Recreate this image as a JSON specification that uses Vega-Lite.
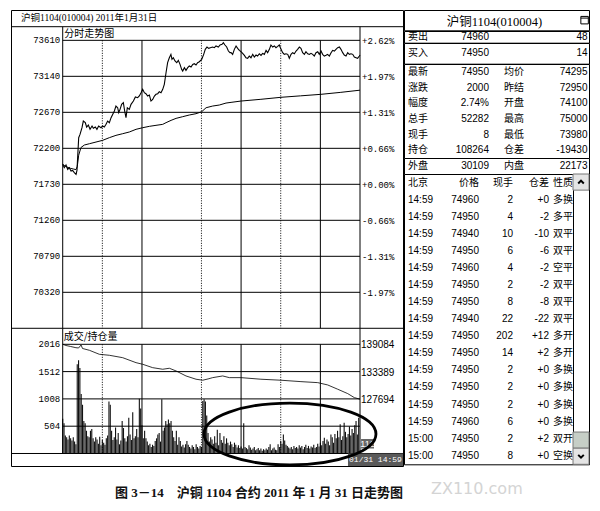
{
"$schema":"https://vega.github.io/schema/vega-lite/v6.json",
"padding":{"left":10,"top":9,"right":2,"bottom":2},
"background":"white",
"config":{"view":{"stroke":"#000","strokeWidth":1,"fill":"white"},"text":{"font":"Liberation Sans, Noto Sans CJK SC","fontSize":10,"color":"#000"}},
"datasets":{
"pticks":[{"p":73610,"lab":"73610","pct":"+2.62%"},{"p":73140,"lab":"73140","pct":"+1.97%"},{"p":72670,"lab":"72670","pct":"+1.31%"},{"p":72200,"lab":"72200","pct":"+0.66%"},{"p":71730,"lab":"71730","pct":"+0.00%"},{"p":71260,"lab":"71260","pct":"-0.66%"},{"p":70790,"lab":"70790","pct":"-1.31%"},{"p":70320,"lab":"70320","pct":"-1.97%"}],
"vticks":[{"v":2016,"lab":"2016","oi":"139084"},{"v":1512,"lab":"1512","oi":"133389"},{"v":1008,"lab":"1008","oi":"127694"},{"v":504,"lab":"504","oi":""}],
"price":[{"m":0,"p":71991},{"m":1.2,"p":71947},{"m":2.5,"p":71982},{"m":3.8,"p":71925},{"m":5,"p":71947},{"m":6.3,"p":71904},{"m":7.5,"p":71912},{"m":8.8,"p":71882},{"m":10.1,"p":71860},{"m":10.8,"p":71912},{"m":12.1,"p":72339},{"m":13.1,"p":72382},{"m":14.6,"p":72469},{"m":15.6,"p":72556},{"m":17.1,"p":72535},{"m":18.1,"p":72478},{"m":19.4,"p":72504},{"m":20.7,"p":72448},{"m":22.2,"p":72491},{"m":23.2,"p":72461},{"m":24.7,"p":72478},{"m":25.9,"p":72448},{"m":27.2,"p":72491},{"m":29,"p":72469},{"m":30.2,"p":72491},{"m":31.5,"p":72478},{"m":32.8,"p":72513},{"m":34,"p":72556},{"m":35.3,"p":72535},{"m":36.6,"p":72600},{"m":37.8,"p":72643},{"m":39.1,"p":72687},{"m":40.3,"p":72752},{"m":41.6,"p":72730},{"m":42.4,"p":72665},{"m":43.4,"p":72709},{"m":44.6,"p":72774},{"m":45.9,"p":72796},{"m":46.9,"p":72687},{"m":47.9,"p":72600},{"m":48.9,"p":72730},{"m":50.4,"p":72709},{"m":51.7,"p":72774},{"m":53.5,"p":72817},{"m":55,"p":72870},{"m":56.7,"p":72861},{"m":58,"p":72883},{"m":59.3,"p":72926},{"m":60.5,"p":72970},{"m":61.8,"p":72926},{"m":63,"p":72913},{"m":64.3,"p":72883},{"m":65.6,"p":72896},{"m":66.8,"p":72817},{"m":68.1,"p":72839},{"m":69.4,"p":72883},{"m":70.6,"p":72905},{"m":71.9,"p":72913},{"m":73.1,"p":72939},{"m":74.4,"p":72926},{"m":75.7,"p":72970},{"m":76.9,"p":73035},{"m":78.2,"p":73187},{"m":79.4,"p":73318},{"m":80.7,"p":73383},{"m":81.9,"p":73427},{"m":82.7,"p":73362},{"m":83.7,"p":73383},{"m":85,"p":73340},{"m":86.3,"p":73318},{"m":87.5,"p":73348},{"m":88.8,"p":73296},{"m":90,"p":73231},{"m":90.8,"p":73209},{"m":92.1,"p":73253},{"m":93.3,"p":73218},{"m":94.6,"p":73253},{"m":95.8,"p":73274},{"m":97.1,"p":73261},{"m":98.4,"p":73296},{"m":99.6,"p":73305},{"m":100.9,"p":73288},{"m":102.1,"p":73318},{"m":103.4,"p":73331},{"m":105.2,"p":73362},{"m":106.7,"p":73427},{"m":107.9,"p":73492},{"m":109.2,"p":73523},{"m":110.5,"p":73505},{"m":111.7,"p":73514},{"m":113.5,"p":73523},{"m":114.8,"p":73514},{"m":116,"p":73536},{"m":117.8,"p":73523},{"m":119.1,"p":73549},{"m":120.6,"p":73557},{"m":121.6,"p":73579},{"m":122.8,"p":73549},{"m":124.1,"p":73523},{"m":125.4,"p":73470},{"m":126.6,"p":73449},{"m":127.4,"p":73449},{"m":128.6,"p":73427},{"m":129.9,"p":73492},{"m":131.2,"p":73536},{"m":132.4,"p":73505},{"m":133.7,"p":73479},{"m":134.9,"p":73462},{"m":136.2,"p":73440},{"m":137.5,"p":73414},{"m":138.7,"p":73383},{"m":140,"p":73375},{"m":141.2,"p":73405},{"m":142.5,"p":73383},{"m":143.8,"p":73427},{"m":145,"p":73392},{"m":146.3,"p":73418},{"m":147.5,"p":73405},{"m":148.8,"p":73435},{"m":150.1,"p":73414},{"m":151.3,"p":73440},{"m":152.6,"p":73427},{"m":153.9,"p":73479},{"m":155.1,"p":73449},{"m":156.4,"p":73492},{"m":157.6,"p":73549},{"m":158.9,"p":73523},{"m":160.2,"p":73536},{"m":161.4,"p":73514},{"m":162.7,"p":73531},{"m":163.9,"p":73549},{"m":165.2,"p":73492},{"m":166.5,"p":73449},{"m":167.7,"p":73427},{"m":169,"p":73435},{"m":170.3,"p":73427},{"m":171.5,"p":73375},{"m":172.8,"p":73427},{"m":174,"p":73449},{"m":175.3,"p":73435},{"m":176.6,"p":73470},{"m":177.8,"p":73492},{"m":179.1,"p":73523},{"m":180.3,"p":73505},{"m":181.6,"p":73449},{"m":182.9,"p":73427},{"m":184.1,"p":73462},{"m":185.4,"p":73435},{"m":186.7,"p":73427},{"m":187.9,"p":73440},{"m":189.2,"p":73427},{"m":190.4,"p":73405},{"m":191.7,"p":73449},{"m":193,"p":73462},{"m":194.2,"p":73427},{"m":195.5,"p":73470},{"m":196.7,"p":73427},{"m":198,"p":73405},{"m":199.3,"p":73414},{"m":200.5,"p":73427},{"m":201.8,"p":73405},{"m":203.1,"p":73449},{"m":204.3,"p":73479},{"m":205.6,"p":73470},{"m":206.8,"p":73492},{"m":208.1,"p":73514},{"m":209.4,"p":73523},{"m":210.6,"p":73492},{"m":211.9,"p":73449},{"m":213.1,"p":73418},{"m":214.4,"p":73405},{"m":215.7,"p":73449},{"m":216.9,"p":73427},{"m":218.2,"p":73435},{"m":219.5,"p":73427},{"m":220.7,"p":73392},{"m":222,"p":73383},{"m":223.2,"p":73375},{"m":224.5,"p":73405},{"m":225,"p":73418}],
"avg":[{"m":0,"p":71991},{"m":2,"p":71965},{"m":4,"p":71950},{"m":6,"p":71938},{"m":8,"p":71930},{"m":10,"p":71922},{"m":11,"p":71960},{"m":12.1,"p":72110},{"m":13.8,"p":72210},{"m":16.4,"p":72243},{"m":20.2,"p":72260},{"m":25.2,"p":72282},{"m":30.2,"p":72304},{"m":35.3,"p":72339},{"m":40.3,"p":72369},{"m":45.4,"p":72391},{"m":50.4,"p":72413},{"m":55.5,"p":72448},{"m":60.5,"p":72469},{"m":65.6,"p":72487},{"m":70.6,"p":72500},{"m":75.7,"p":72513},{"m":78.2,"p":72535},{"m":82,"p":72565},{"m":85.8,"p":72591},{"m":90.8,"p":72613},{"m":95.8,"p":72635},{"m":100.9,"p":72652},{"m":105.2,"p":72678},{"m":108.5,"p":72730},{"m":113.5,"p":72752},{"m":118.5,"p":72765},{"m":123.6,"p":72791},{"m":127.4,"p":72800},{"m":134.9,"p":72817},{"m":150,"p":72840},{"m":165.2,"p":72866},{"m":180,"p":72885},{"m":195.5,"p":72905},{"m":210,"p":72930},{"m":225,"p":72959}],
"oi":[{"m":0,"o":139084},{"m":2.5,"o":138834},{"m":6,"o":138626},{"m":10,"o":138376},{"m":12,"o":138314},{"m":13.9,"o":138938},{"m":15,"o":138210},{"m":20.2,"o":137835},{"m":27.7,"o":137002},{"m":35.3,"o":136794},{"m":45.4,"o":136294},{"m":55.5,"o":135253},{"m":60.5,"o":134920},{"m":68.1,"o":134212},{"m":75.7,"o":133879},{"m":80.7,"o":134087},{"m":85.8,"o":133525},{"m":93.3,"o":132484},{"m":100.9,"o":131797},{"m":106,"o":131589},{"m":110,"o":131860},{"m":113.5,"o":132130},{"m":121.1,"o":132484},{"m":126.1,"o":132130},{"m":134.9,"o":132130},{"m":150,"o":131797},{"m":165.2,"o":131589},{"m":180.3,"o":131297},{"m":193,"o":131089},{"m":200.5,"o":130610},{"m":208.1,"o":129715},{"m":215.7,"o":128799},{"m":220.7,"o":127966},{"m":225,"o":127633}],
"vol":[{"m":0,"v":640},{"m":1,"v":560},{"m":2,"v":330},{"m":3,"v":300},{"m":4,"v":260},{"m":5,"v":330},{"m":6,"v":280},{"m":7,"v":240},{"m":8,"v":300},{"m":9,"v":220},{"m":10,"v":170},{"m":11,"v":1650},{"m":12,"v":1720},{"m":13,"v":1580},{"m":14,"v":1100},{"m":15,"v":900},{"m":16,"v":600},{"m":17,"v":560},{"m":18,"v":420},{"m":19,"v":320},{"m":20,"v":300},{"m":21,"v":420},{"m":22,"v":450},{"m":23,"v":280},{"m":24,"v":220},{"m":25,"v":300},{"m":26,"v":260},{"m":27,"v":180},{"m":28,"v":310},{"m":29,"v":150},{"m":30,"v":250},{"m":31,"v":200},{"m":32,"v":160},{"m":33,"v":280},{"m":34,"v":330},{"m":35,"v":960},{"m":36,"v":900},{"m":37,"v":420},{"m":38,"v":250},{"m":39,"v":300},{"m":40,"v":480},{"m":41,"v":260},{"m":42,"v":380},{"m":43,"v":170},{"m":44,"v":240},{"m":45,"v":600},{"m":46,"v":470},{"m":47,"v":280},{"m":48,"v":220},{"m":49,"v":320},{"m":50,"v":660},{"m":51,"v":350},{"m":52,"v":250},{"m":53,"v":760},{"m":54,"v":280},{"m":55,"v":320},{"m":56,"v":450},{"m":57,"v":300},{"m":58,"v":1010},{"m":59,"v":830},{"m":60,"v":520},{"m":61,"v":280},{"m":62,"v":420},{"m":63,"v":280},{"m":64,"v":220},{"m":65,"v":150},{"m":66,"v":180},{"m":67,"v":120},{"m":68,"v":160},{"m":69,"v":140},{"m":70,"v":230},{"m":71,"v":280},{"m":72,"v":350},{"m":73,"v":380},{"m":74,"v":220},{"m":75,"v":1000},{"m":76,"v":420},{"m":77,"v":480},{"m":78,"v":600},{"m":79,"v":540},{"m":80,"v":630},{"m":81,"v":560},{"m":82,"v":600},{"m":83,"v":420},{"m":84,"v":300},{"m":85,"v":230},{"m":86,"v":420},{"m":87,"v":160},{"m":88,"v":300},{"m":89,"v":230},{"m":90,"v":130},{"m":91,"v":160},{"m":92,"v":110},{"m":93,"v":170},{"m":94,"v":230},{"m":95,"v":160},{"m":96,"v":120},{"m":97,"v":90},{"m":98,"v":150},{"m":99,"v":120},{"m":100,"v":80},{"m":101,"v":170},{"m":102,"v":120},{"m":103,"v":90},{"m":104,"v":140},{"m":105,"v":120},{"m":106,"v":970},{"m":107,"v":1000},{"m":108,"v":960},{"m":109,"v":700},{"m":110,"v":380},{"m":111,"v":220},{"m":112,"v":300},{"m":113,"v":260},{"m":114,"v":180},{"m":115,"v":320},{"m":116,"v":200},{"m":117,"v":440},{"m":118,"v":150},{"m":119,"v":380},{"m":120,"v":250},{"m":121,"v":200},{"m":122,"v":320},{"m":123,"v":180},{"m":124,"v":280},{"m":125,"v":200},{"m":126,"v":150},{"m":127,"v":220},{"m":128,"v":170},{"m":129,"v":120},{"m":130,"v":200},{"m":131,"v":160},{"m":132,"v":110},{"m":133,"v":150},{"m":134,"v":100},{"m":135,"v":130},{"m":136,"v":90},{"m":137,"v":560},{"m":138,"v":120},{"m":139,"v":100},{"m":140,"v":80},{"m":141,"v":150},{"m":142,"v":110},{"m":143,"v":70},{"m":144,"v":90},{"m":145,"v":120},{"m":146,"v":60},{"m":147,"v":80},{"m":148,"v":100},{"m":149,"v":60},{"m":150,"v":90},{"m":151,"v":50},{"m":152,"v":80},{"m":153,"v":60},{"m":154,"v":90},{"m":155,"v":70},{"m":156,"v":120},{"m":157,"v":170},{"m":158,"v":60},{"m":159,"v":90},{"m":160,"v":110},{"m":161,"v":70},{"m":162,"v":60},{"m":163,"v":170},{"m":164,"v":120},{"m":165,"v":230},{"m":166,"v":180},{"m":167,"v":350},{"m":168,"v":240},{"m":169,"v":160},{"m":170,"v":140},{"m":171,"v":110},{"m":172,"v":90},{"m":173,"v":120},{"m":174,"v":80},{"m":175,"v":140},{"m":176,"v":100},{"m":177,"v":120},{"m":178,"v":90},{"m":179,"v":150},{"m":180,"v":110},{"m":181,"v":140},{"m":182,"v":80},{"m":183,"v":120},{"m":184,"v":160},{"m":185,"v":100},{"m":186,"v":140},{"m":187,"v":90},{"m":188,"v":130},{"m":189,"v":110},{"m":190,"v":160},{"m":191,"v":100},{"m":192,"v":120},{"m":193,"v":180},{"m":194,"v":130},{"m":195,"v":200},{"m":196,"v":150},{"m":197,"v":230},{"m":198,"v":290},{"m":199,"v":180},{"m":200,"v":260},{"m":201,"v":220},{"m":202,"v":150},{"m":203,"v":350},{"m":204,"v":300},{"m":205,"v":200},{"m":206,"v":360},{"m":207,"v":280},{"m":208,"v":420},{"m":209,"v":300},{"m":210,"v":540},{"m":211,"v":250},{"m":212,"v":320},{"m":213,"v":570},{"m":214,"v":400},{"m":215,"v":300},{"m":216,"v":360},{"m":217,"v":500},{"m":218,"v":330},{"m":219,"v":450},{"m":220,"v":380},{"m":221,"v":520},{"m":222,"v":600},{"m":223,"v":350},{"m":224,"v":660}],
"trades":[{"i":0,"t":"北京","p":"价格","q":"现手","d":"仓差","n":"性质"},{"i":1,"t":"14:59","p":"74960","q":"2","d":"+0","n":"多换"},{"i":2,"t":"14:59","p":"74950","q":"4","d":"-2","n":"多平"},{"i":3,"t":"14:59","p":"74940","q":"10","d":"-10","n":"双平"},{"i":4,"t":"14:59","p":"74950","q":"6","d":"-6","n":"双平"},{"i":5,"t":"14:59","p":"74960","q":"4","d":"-2","n":"空平"},{"i":6,"t":"14:59","p":"74950","q":"2","d":"-2","n":"双平"},{"i":7,"t":"14:59","p":"74950","q":"8","d":"-8","n":"双平"},{"i":8,"t":"14:59","p":"74940","q":"22","d":"-22","n":"双平"},{"i":9,"t":"14:59","p":"74950","q":"202","d":"+12","n":"多开"},{"i":10,"t":"14:59","p":"74950","q":"14","d":"+2","n":"多开"},{"i":11,"t":"14:59","p":"74950","q":"2","d":"+0","n":"多换"},{"i":12,"t":"14:59","p":"74950","q":"2","d":"+0","n":"多换"},{"i":13,"t":"14:59","p":"74950","q":"2","d":"+0","n":"多换"},{"i":14,"t":"14:59","p":"74960","q":"6","d":"+0","n":"多换"},{"i":15,"t":"15:00","p":"74950","q":"2","d":"+2","n":"双开"},{"i":16,"t":"15:00","p":"74950","q":"8","d":"+0","n":"空换"}]
},
"hconcat":[
{
"width":392,"height":456,
"title":{"text":"图 3－14　沪铜 1104 合约 2011 年 1 月 31 日走势图","orient":"bottom","anchor":"middle","frame":"group","offset":16,"dx":52,"font":"Liberation Serif, Noto Sans CJK SC","fontSize":13,"fontWeight":"bold","color":"#111"},
"resolve":{"scale":{"y":"independent"}},
"layer":[
{"layer":[
{"data":{"name":"pticks"},"mark":{"type":"rule","color":"#000","strokeWidth":1},"encoding":{"x":{"datum":0,"type":"quantitative","scale":{"domain":[-39.13,257.54],"nice":false,"zero":false},"axis":null},"x2":{"datum":225},"y":{"field":"p","type":"quantitative","scale":{"domain":[68052,74006],"nice":false,"zero":false},"axis":null}}},
{"data":{"values":[{"m":60},{"m":135},{"m":195}]},"mark":{"type":"rule","color":"#000","strokeWidth":1},"encoding":{"x":{"field":"m","type":"quantitative","scale":{"domain":[-39.13,257.54],"nice":false,"zero":false},"axis":null},"y":{"datum":73610,"type":"quantitative","scale":{"domain":[68052,74006],"nice":false,"zero":false},"axis":null},"y2":{"datum":69850}}},
{"data":{"values":[{"m":30},{"m":105},{"m":165}]},"mark":{"type":"rule","color":"#000","strokeWidth":1,"strokeDash":[1,1.5]},"encoding":{"x":{"field":"m","type":"quantitative","scale":{"domain":[-39.13,257.54],"nice":false,"zero":false},"axis":null},"y":{"datum":73610,"type":"quantitative","scale":{"domain":[68052,74006],"nice":false,"zero":false},"axis":null},"y2":{"datum":69850}}},
{"data":{"values":[{"m":0},{"m":225}]},"mark":{"type":"rule","color":"#000","strokeWidth":1},"encoding":{"x":{"field":"m","type":"quantitative","scale":{"domain":[-39.13,257.54],"nice":false,"zero":false},"axis":null},"y":{"datum":73788,"type":"quantitative","scale":{"domain":[68052,74006],"nice":false,"zero":false},"axis":null},"y2":{"datum":69850}}},
{"data":{"values":[{}]},"mark":{"type":"rule","color":"#000","strokeWidth":1},"encoding":{"y":{"datum":73788,"type":"quantitative","scale":{"domain":[68052,74006],"nice":false,"zero":false},"axis":null}}},
{"data":{"values":[{}]},"mark":{"type":"rule","color":"#000","strokeWidth":1},"encoding":{"y":{"datum":69850,"type":"quantitative","scale":{"domain":[68052,74006],"nice":false,"zero":false},"axis":null}}},
{"data":{"name":"pticks"},"mark":{"type":"text","align":"right","baseline":"middle","dx":-2.5,"font":"Liberation Mono","fontSize":9,"color":"#000"},"encoding":{"x":{"datum":0,"type":"quantitative","scale":{"domain":[-39.13,257.54],"nice":false,"zero":false},"axis":null},"y":{"field":"p","type":"quantitative","scale":{"domain":[68052,74006],"nice":false,"zero":false},"axis":null},"text":{"field":"lab"}}},
{"data":{"name":"pticks"},"mark":{"type":"text","align":"left","baseline":"middle","dx":2,"dy":1,"font":"Liberation Mono","fontSize":9,"color":"#000"},"encoding":{"x":{"datum":225,"type":"quantitative","scale":{"domain":[-39.13,257.54],"nice":false,"zero":false},"axis":null},"y":{"field":"p","type":"quantitative","scale":{"domain":[68052,74006],"nice":false,"zero":false},"axis":null},"text":{"field":"pct"}}},
{"data":{"values":[{"t":"分时走势图"}]},"mark":{"type":"text","align":"left","baseline":"middle","dx":1.5,"font":"Noto Sans CJK SC","fontSize":10,"color":"#000"},"encoding":{"x":{"datum":0,"type":"quantitative","scale":{"domain":[-39.13,257.54],"nice":false,"zero":false},"axis":null},"y":{"datum":73696,"type":"quantitative","scale":{"domain":[68052,74006],"nice":false,"zero":false},"axis":null},"text":{"field":"t"}}},
{"data":{"values":[{"t":"沪铜1104(010004) 2011年1月31日"}]},"mark":{"type":"text","align":"left","baseline":"middle","dx":10,"font":"Liberation Serif, Noto Sans CJK SC","fontSize":9.5,"color":"#000"},"encoding":{"x":{"datum":-39.13,"type":"quantitative","scale":{"domain":[-39.13,257.54],"nice":false,"zero":false},"axis":null},"y":{"datum":73905,"type":"quantitative","scale":{"domain":[68052,74006],"nice":false,"zero":false},"axis":null},"text":{"field":"t"}}},
{"data":{"name":"avg"},"mark":{"type":"line","color":"#000","strokeWidth":1},"encoding":{"x":{"field":"m","type":"quantitative","scale":{"domain":[-39.13,257.54],"nice":false,"zero":false},"axis":null},"y":{"field":"p","type":"quantitative","scale":{"domain":[68052,74006],"nice":false,"zero":false},"axis":null}}},
{"data":{"name":"price"},"mark":{"type":"line","color":"#000","strokeWidth":1.1},"encoding":{"x":{"field":"m","type":"quantitative","scale":{"domain":[-39.13,257.54],"nice":false,"zero":false},"axis":null},"y":{"field":"p","type":"quantitative","scale":{"domain":[68052,74006],"nice":false,"zero":false},"axis":null}}}
]},
{"layer":[
{"data":{"name":"vol"},"mark":{"type":"rule","color":"#111","strokeWidth":1.1},"encoding":{"x":{"field":"m","type":"quantitative","scale":{"domain":[-39.13,257.54],"nice":false,"zero":false},"axis":{"orient":"bottom","offset":-13,"values":[0,30,60,105,135,165,195],"labelExpr":"datum.value==0?'09:00':datum.value==30?'09:30':datum.value==60?'10:00':datum.value==105?'11:00':datum.value==135?'11:30':datum.value==165?'14:00':'14:30'","domain":false,"ticks":false,"grid":false,"title":null,"labelFont":"Liberation Mono","labelFontSize":8,"labelColor":"#000","labelPadding":2,"labelOffset":-3,"labelFlush":false,"labelOverlap":false,"zindex":1}},"y":{"field":"v","type":"quantitative","scale":{"domain":[-230.8,8188],"nice":false,"zero":false},"axis":null},"y2":{"datum":0}}},
{"data":{"name":"vticks"},"mark":{"type":"rule","color":"#000","strokeWidth":1},"encoding":{"x":{"datum":0,"type":"quantitative","scale":{"domain":[-39.13,257.54],"nice":false,"zero":false},"axis":null},"x2":{"datum":225},"y":{"field":"v","type":"quantitative","scale":{"domain":[-230.8,8188],"nice":false,"zero":false},"axis":null}}},
{"data":{"values":[{"m":60},{"m":135},{"m":195}]},"mark":{"type":"rule","color":"#000","strokeWidth":1},"encoding":{"x":{"field":"m","type":"quantitative","scale":{"domain":[-39.13,257.54],"nice":false,"zero":false},"axis":null},"y":{"datum":2016,"type":"quantitative","scale":{"domain":[-230.8,8188],"nice":false,"zero":false},"axis":null},"y2":{"datum":0}}},
{"data":{"values":[{"m":30},{"m":105},{"m":165}]},"mark":{"type":"rule","color":"#000","strokeWidth":1,"strokeDash":[1,1.5]},"encoding":{"x":{"field":"m","type":"quantitative","scale":{"domain":[-39.13,257.54],"nice":false,"zero":false},"axis":null},"y":{"datum":2016,"type":"quantitative","scale":{"domain":[-230.8,8188],"nice":false,"zero":false},"axis":null},"y2":{"datum":0}}},
{"data":{"values":[{"m":0},{"m":225}]},"mark":{"type":"rule","color":"#000","strokeWidth":1},"encoding":{"x":{"field":"m","type":"quantitative","scale":{"domain":[-39.13,257.54],"nice":false,"zero":false},"axis":null},"y":{"datum":2311,"type":"quantitative","scale":{"domain":[-230.8,8188],"nice":false,"zero":false},"axis":null},"y2":{"datum":0}}},
{"data":{"values":[{}]},"mark":{"type":"rule","color":"#000","strokeWidth":1},"encoding":{"y":{"datum":0,"type":"quantitative","scale":{"domain":[-230.8,8188],"nice":false,"zero":false},"axis":null}}},
{"data":{"name":"vticks"},"mark":{"type":"text","align":"right","baseline":"middle","dx":-2.5,"font":"Liberation Mono","fontSize":9,"color":"#000"},"encoding":{"x":{"datum":0,"type":"quantitative","scale":{"domain":[-39.13,257.54],"nice":false,"zero":false},"axis":null},"y":{"field":"v","type":"quantitative","scale":{"domain":[-230.8,8188],"nice":false,"zero":false},"axis":null},"text":{"field":"lab"}}},
{"data":{"name":"vticks"},"mark":{"type":"text","align":"left","baseline":"middle","dx":1,"dy":1,"font":"Liberation Sans","fontSize":10,"color":"#000"},"encoding":{"x":{"datum":225,"type":"quantitative","scale":{"domain":[-39.13,257.54],"nice":false,"zero":false},"axis":null},"y":{"field":"v","type":"quantitative","scale":{"domain":[-230.8,8188],"nice":false,"zero":false},"axis":null},"text":{"field":"oi"}}},
{"data":{"values":[{"t":"成交/持仓量"}]},"mark":{"type":"text","align":"left","baseline":"middle","dx":1,"font":"Noto Sans CJK SC","fontSize":10,"color":"#000"},"encoding":{"x":{"datum":0,"type":"quantitative","scale":{"domain":[-39.13,257.54],"nice":false,"zero":false},"axis":null},"y":{"datum":2151,"type":"quantitative","scale":{"domain":[-230.8,8188],"nice":false,"zero":false},"axis":null},"text":{"field":"t"}}},
{"data":{"values":[{}]},"mark":{"type":"rect","color":"#5a5a5a"},"encoding":{"x":{"datum":215.9,"type":"quantitative","scale":{"domain":[-39.13,257.54],"nice":false,"zero":false},"axis":null},"x2":{"datum":257.54},"y":{"datum":0,"type":"quantitative","scale":{"domain":[-230.8,8188],"nice":false,"zero":false},"axis":null},"y2":{"datum":-230.8}}},
{"data":{"values":[{"t":"01/31 14:59"}]},"mark":{"type":"text","align":"center","baseline":"middle","font":"Liberation Mono","fontSize":8,"color":"#fff"},"encoding":{"x":{"datum":236.7,"type":"quantitative","scale":{"domain":[-39.13,257.54],"nice":false,"zero":false},"axis":null},"y":{"datum":-115,"type":"quantitative","scale":{"domain":[-230.8,8188],"nice":false,"zero":false},"axis":null},"text":{"field":"t"}}},
{"data":{"values":[{}]},"mark":{"type":"rect","color":"#666"},"encoding":{"x":{"datum":225.8,"type":"quantitative","scale":{"domain":[-39.13,257.54],"nice":false,"zero":false},"axis":null},"x2":{"datum":235.6},"y":{"datum":268,"type":"quantitative","scale":{"domain":[-230.8,8188],"nice":false,"zero":false},"axis":null},"y2":{"datum":92}}},
{"data":{"values":[{"t":"112"}]},"mark":{"type":"text","align":"center","baseline":"middle","font":"Liberation Sans","fontSize":9,"color":"#fff"},"encoding":{"x":{"datum":230.7,"type":"quantitative","scale":{"domain":[-39.13,257.54],"nice":false,"zero":false},"axis":null},"y":{"datum":180,"type":"quantitative","scale":{"domain":[-230.8,8188],"nice":false,"zero":false},"axis":null},"text":{"field":"t"}}},
{"data":{"values":[{}]},"mark":{"type":"point","shape":"M-1,0C-1,-0.199,-0.552,-0.36,0,-0.36C0.552,-0.36,1,-0.199,1,0C1,0.199,0.552,0.36,0,0.36C-0.552,0.36,-1,0.199,-1,0Z","size":29584,"filled":false,"stroke":"#000","strokeWidth":2.8,"opacity":1},"encoding":{"x":{"datum":172,"type":"quantitative","scale":{"domain":[-39.13,257.54],"nice":false,"zero":false},"axis":null},"y":{"datum":360,"type":"quantitative","scale":{"domain":[-230.8,8188],"nice":false,"zero":false},"axis":null}}}
]},
{"layer":[
{"data":{"name":"oi"},"mark":{"type":"line","color":"#000","strokeWidth":0.8},"encoding":{"x":{"field":"m","type":"quantitative","scale":{"domain":[-39.13,257.54],"nice":false,"zero":false},"axis":null},"y":{"field":"o","type":"quantitative","scale":{"domain":[113696,208825],"nice":false,"zero":false},"axis":null}}}
]}
]
},
{
"vconcat":[
{"width":185,"height":20.3,"layer":[
{"data":{"values":[{"t":"沪铜1104(010004)"}]},"mark":{"type":"text","font":"Liberation Serif, Noto Sans CJK SC","fontSize":12.5,"dx":-2,"dy":1.5,"color":"#000"},"encoding":{"text":{"field":"t"}}},
{"data":{"values":[{"k":"icon"}]},"mark":{"type":"point","shape":"M-1,-1H1V1H-1Z M-1,-0.55H1","size":56,"filled":false,"stroke":"#000","strokeWidth":1,"opacity":1},"encoding":{"x":{"field":"k","type":"nominal","scale":{"type":"point","domain":["edge","mid","icon"],"padding":0.05},"axis":null}}}
]},
{"width":185,"height":11.7,"data":{"values":[{"i":0,"l1":"卖出","v1":"74960","v2":"48"}]},"layer":[
{"mark":{"type":"text","align":"left","baseline":"middle","dx":4},"encoding":{"x":{"datum":"l1","type":"nominal","scale":{"type":"band","domain":["l1","v1","l2","v2"],"paddingInner":0,"paddingOuter":0},"bandPosition":0,"axis":null},"y":{"field":"i","type":"ordinal","scale":{"type":"band","paddingInner":0,"paddingOuter":0},"bandPosition":0.5,"axis":null},"text":{"field":"l1"}}},
{"mark":{"type":"text","align":"right","baseline":"middle","dx":-7.5},"encoding":{"x":{"datum":"v1","type":"nominal","scale":{"type":"band","domain":["l1","v1","l2","v2"],"paddingInner":0,"paddingOuter":0},"bandPosition":1,"axis":null},"y":{"field":"i","type":"ordinal","scale":{"type":"band","paddingInner":0,"paddingOuter":0},"bandPosition":0.5,"axis":null},"text":{"field":"v1"}}},
{"mark":{"type":"text","align":"right","baseline":"middle","dx":-1.5},"encoding":{"x":{"datum":"v2","type":"nominal","scale":{"type":"band","domain":["l1","v1","l2","v2"],"paddingInner":0,"paddingOuter":0},"bandPosition":1,"axis":null},"y":{"field":"i","type":"ordinal","scale":{"type":"band","paddingInner":0,"paddingOuter":0},"bandPosition":0.5,"axis":null},"text":{"field":"v2"}}}
]},
{"width":185,"height":20.7,"data":{"values":[{"i":0,"l1":"买入","v1":"74950","v2":"14"}]},"layer":[
{"mark":{"type":"text","align":"left","baseline":"middle","dx":4},"encoding":{"x":{"datum":"l1","type":"nominal","scale":{"type":"band","domain":["l1","v1","l2","v2"],"paddingInner":0,"paddingOuter":0},"bandPosition":0,"axis":null},"y":{"field":"i","type":"ordinal","scale":{"type":"band","paddingInner":0,"paddingOuter":0},"bandPosition":0.5,"axis":null},"text":{"field":"l1"}}},
{"mark":{"type":"text","align":"right","baseline":"middle","dx":-7.5},"encoding":{"x":{"datum":"v1","type":"nominal","scale":{"type":"band","domain":["l1","v1","l2","v2"],"paddingInner":0,"paddingOuter":0},"bandPosition":1,"axis":null},"y":{"field":"i","type":"ordinal","scale":{"type":"band","paddingInner":0,"paddingOuter":0},"bandPosition":0.5,"axis":null},"text":{"field":"v1"}}},
{"mark":{"type":"text","align":"right","baseline":"middle","dx":-1.5},"encoding":{"x":{"datum":"v2","type":"nominal","scale":{"type":"band","domain":["l1","v1","l2","v2"],"paddingInner":0,"paddingOuter":0},"bandPosition":1,"axis":null},"y":{"field":"i","type":"ordinal","scale":{"type":"band","paddingInner":0,"paddingOuter":0},"bandPosition":0.5,"axis":null},"text":{"field":"v2"}}}
]},
{"width":185,"height":94,"data":{"values":[{"i":0,"l1":"最新","v1":"74950","l2":"均价","v2":"74295"},{"i":1,"l1":"涨跌","v1":"2000","l2":"昨结","v2":"72950"},{"i":2,"l1":"幅度","v1":"2.74%","l2":"开盘","v2":"74100"},{"i":3,"l1":"总手","v1":"52282","l2":"最高","v2":"75000"},{"i":4,"l1":"现手","v1":"8","l2":"最低","v2":"73980"},{"i":5,"l1":"持仓","v1":"108264","l2":"仓差","v2":"-19430"}]},"layer":[
{"mark":{"type":"text","align":"left","baseline":"middle","dx":4},"encoding":{"x":{"datum":"l1","type":"nominal","scale":{"type":"band","domain":["l1","v1","l2","v2"],"paddingInner":0,"paddingOuter":0},"bandPosition":0,"axis":null},"y":{"field":"i","type":"ordinal","scale":{"type":"band","paddingInner":0,"paddingOuter":0},"bandPosition":0.5,"axis":null},"text":{"field":"l1"}}},
{"mark":{"type":"text","align":"right","baseline":"middle","dx":-7.5},"encoding":{"x":{"datum":"v1","type":"nominal","scale":{"type":"band","domain":["l1","v1","l2","v2"],"paddingInner":0,"paddingOuter":0},"bandPosition":1,"axis":null},"y":{"field":"i","type":"ordinal","scale":{"type":"band","paddingInner":0,"paddingOuter":0},"bandPosition":0.5,"axis":null},"text":{"field":"v1"}}},
{"mark":{"type":"text","align":"left","baseline":"middle","dx":7.5},"encoding":{"x":{"datum":"l2","type":"nominal","scale":{"type":"band","domain":["l1","v1","l2","v2"],"paddingInner":0,"paddingOuter":0},"bandPosition":0,"axis":null},"y":{"field":"i","type":"ordinal","scale":{"type":"band","paddingInner":0,"paddingOuter":0},"bandPosition":0.5,"axis":null},"text":{"field":"l2"}}},
{"mark":{"type":"text","align":"right","baseline":"middle","dx":-1.5},"encoding":{"x":{"datum":"v2","type":"nominal","scale":{"type":"band","domain":["l1","v1","l2","v2"],"paddingInner":0,"paddingOuter":0},"bandPosition":1,"axis":null},"y":{"field":"i","type":"ordinal","scale":{"type":"band","paddingInner":0,"paddingOuter":0},"bandPosition":0.5,"axis":null},"text":{"field":"v2"}}}
]},
{"width":185,"height":16,"data":{"values":[{"i":0,"l1":"外盘","v1":"30109","l2":"内盘","v2":"22173"}]},"layer":[
{"mark":{"type":"text","align":"left","baseline":"middle","dx":4},"encoding":{"x":{"datum":"l1","type":"nominal","scale":{"type":"band","domain":["l1","v1","l2","v2"],"paddingInner":0,"paddingOuter":0},"bandPosition":0,"axis":null},"y":{"field":"i","type":"ordinal","scale":{"type":"band","paddingInner":0,"paddingOuter":0},"bandPosition":0.5,"axis":null},"text":{"field":"l1"}}},
{"mark":{"type":"text","align":"right","baseline":"middle","dx":-7.5},"encoding":{"x":{"datum":"v1","type":"nominal","scale":{"type":"band","domain":["l1","v1","l2","v2"],"paddingInner":0,"paddingOuter":0},"bandPosition":1,"axis":null},"y":{"field":"i","type":"ordinal","scale":{"type":"band","paddingInner":0,"paddingOuter":0},"bandPosition":0.5,"axis":null},"text":{"field":"v1"}}},
{"mark":{"type":"text","align":"left","baseline":"middle","dx":7.5},"encoding":{"x":{"datum":"l2","type":"nominal","scale":{"type":"band","domain":["l1","v1","l2","v2"],"paddingInner":0,"paddingOuter":0},"bandPosition":0,"axis":null},"y":{"field":"i","type":"ordinal","scale":{"type":"band","paddingInner":0,"paddingOuter":0},"bandPosition":0.5,"axis":null},"text":{"field":"l2"}}},
{"mark":{"type":"text","align":"right","baseline":"middle","dx":-1.5},"encoding":{"x":{"datum":"v2","type":"nominal","scale":{"type":"band","domain":["l1","v1","l2","v2"],"paddingInner":0,"paddingOuter":0},"bandPosition":1,"axis":null},"y":{"field":"i","type":"ordinal","scale":{"type":"band","paddingInner":0,"paddingOuter":0},"bandPosition":0.5,"axis":null},"text":{"field":"v2"}}}
]},
{"hconcat":[
{"width":169,"height":290.3,"data":{"name":"trades"},
"title":{"text":"ZX110.com","orient":"bottom","anchor":"start","frame":"group","dx":27,"offset":17,"font":"DejaVu Sans","fontSize":16,"fontWeight":"normal","color":"#d4d4d4"},
"layer":[
{"mark":{"type":"text","align":"left","baseline":"middle","dx":4},"encoding":{"x":{"datum":"t","type":"nominal","scale":{"type":"band","domain":["t","p","q","d","n"],"paddingInner":0,"paddingOuter":0},"bandPosition":0,"axis":null},"y":{"field":"i","type":"ordinal","scale":{"type":"band","paddingInner":0,"paddingOuter":0},"bandPosition":0.5,"axis":null},"text":{"field":"t"}}},
{"mark":{"type":"text","align":"right","baseline":"middle","dx":7.4},"encoding":{"x":{"datum":"p","type":"nominal","scale":{"type":"band","domain":["t","p","q","d","n"],"paddingInner":0,"paddingOuter":0},"bandPosition":1,"axis":null},"y":{"field":"i","type":"ordinal","scale":{"type":"band","paddingInner":0,"paddingOuter":0},"bandPosition":0.5,"axis":null},"text":{"field":"p"}}},
{"mark":{"type":"text","align":"right","baseline":"middle","dx":7.6},"encoding":{"x":{"datum":"q","type":"nominal","scale":{"type":"band","domain":["t","p","q","d","n"],"paddingInner":0,"paddingOuter":0},"bandPosition":1,"axis":null},"y":{"field":"i","type":"ordinal","scale":{"type":"band","paddingInner":0,"paddingOuter":0},"bandPosition":0.5,"axis":null},"text":{"field":"q"}}},
{"mark":{"type":"text","align":"right","baseline":"middle","dx":9.8},"encoding":{"x":{"datum":"d","type":"nominal","scale":{"type":"band","domain":["t","p","q","d","n"],"paddingInner":0,"paddingOuter":0},"bandPosition":1,"axis":null},"y":{"field":"i","type":"ordinal","scale":{"type":"band","paddingInner":0,"paddingOuter":0},"bandPosition":0.5,"axis":null},"text":{"field":"d"}}},
{"mark":{"type":"text","align":"left","baseline":"middle","dx":13.8,"clip":true},"encoding":{"x":{"datum":"n","type":"nominal","scale":{"type":"band","domain":["t","p","q","d","n"],"paddingInner":0,"paddingOuter":0},"bandPosition":0,"axis":null},"y":{"field":"i","type":"ordinal","scale":{"type":"band","paddingInner":0,"paddingOuter":0},"bandPosition":0.5,"axis":null},"text":{"field":"n"}}}
]},
{"width":16,"height":290.3,"data":{"values":[{"i":0,"k":"up"},{"i":16,"k":"thumb"},{"i":17,"k":"down"}]},
"layer":[
{"mark":{"type":"rect","stroke":"#777","strokeWidth":1},"encoding":{"y":{"field":"i","type":"ordinal","scale":{"type":"band","domain":[0,1,2,3,4,5,6,7,8,9,10,11,12,13,14,15,16,17],"paddingInner":0,"paddingOuter":0},"axis":null},"color":{"field":"k","type":"nominal","scale":{"domain":["up","thumb","down"],"range":["#e4e4e4","#c6cec6","#e4e4e4"]},"legend":null}}},
{"transform":[{"filter":"datum.k=='up'"}],"mark":{"type":"point","shape":"M-0.8,0.4L0,-0.4L0.8,0.4","size":49,"filled":false,"stroke":"#000","strokeWidth":2,"opacity":1},"encoding":{"y":{"field":"i","type":"ordinal","scale":{"type":"band","domain":[0,1,2,3,4,5,6,7,8,9,10,11,12,13,14,15,16,17],"paddingInner":0,"paddingOuter":0},"bandPosition":0.5,"axis":null}}},
{"transform":[{"filter":"datum.k=='down'"}],"mark":{"type":"point","shape":"M-0.8,-0.4L0,0.4L0.8,-0.4","size":49,"filled":false,"stroke":"#000","strokeWidth":2,"opacity":1},"encoding":{"y":{"field":"i","type":"ordinal","scale":{"type":"band","domain":[0,1,2,3,4,5,6,7,8,9,10,11,12,13,14,15,16,17],"paddingInner":0,"paddingOuter":0},"bandPosition":0.5,"axis":null}}}
]}
],"spacing":0,"bounds":"flush"}
],
"spacing":0,"bounds":"flush"
}
],
"spacing":1,
"bounds":"flush"
}
